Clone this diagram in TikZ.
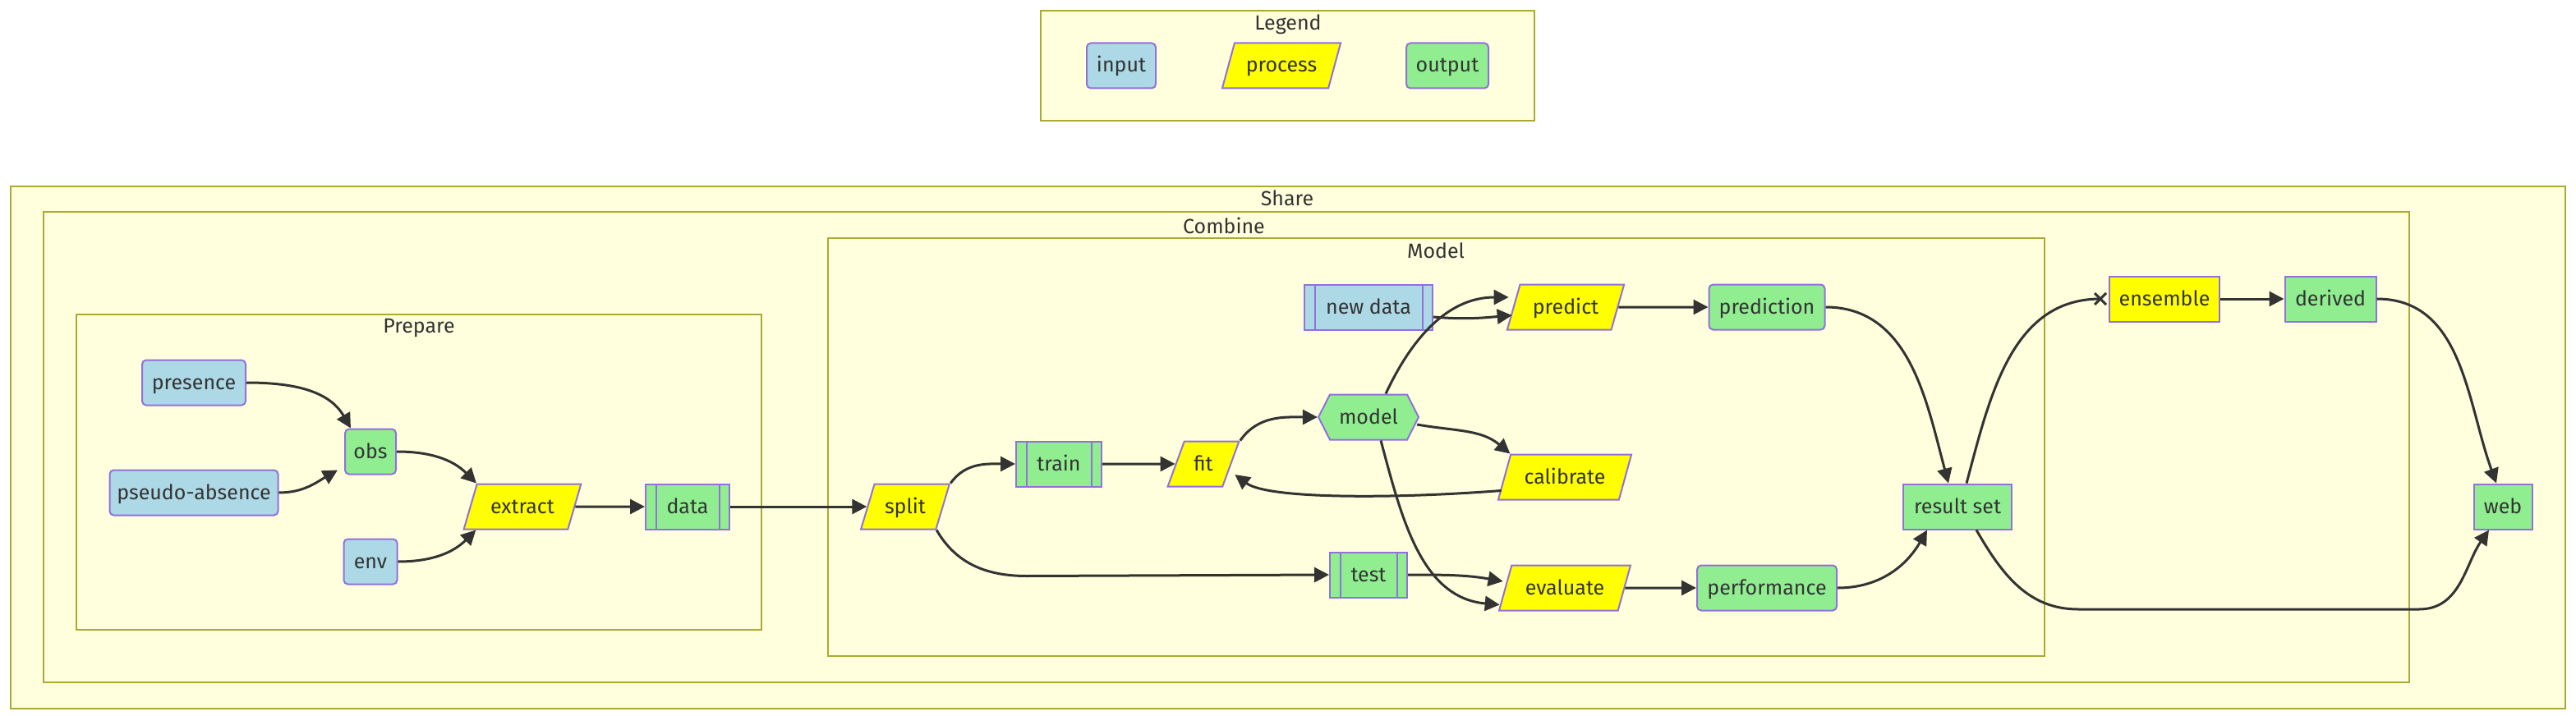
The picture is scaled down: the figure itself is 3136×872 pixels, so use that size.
\documentclass[tikz,border=0pt]{standalone}
\usepackage{fontspec}
\setmainfont{Fira Sans}
\usetikzlibrary{arrows.meta,shapes.geometric,shapes.symbols}

\definecolor{inputc}{HTML}{ADD8E6}
\definecolor{procc}{HTML}{FFFF00}
\definecolor{outc}{HTML}{90EE90}
\definecolor{nodeline}{HTML}{9370DB}
\definecolor{boxfill}{HTML}{FFFFDE}
\definecolor{boxline}{HTML}{AAAA33}
\definecolor{ink}{HTML}{333333}

\tikzset{
	base/.style={draw=nodeline, line width=1pt, text=ink, inner sep=1pt, minimum height=27.5pt, text height=10pt, text depth=2pt},
	inp/.style={base, fill=inputc, rounded corners=2.5pt},
	outp/.style={base, fill=outc, rounded corners=2.5pt},
	outbox/.style={base, fill=outc},
	procbox/.style={base, fill=procc},
	proc/.style={base, fill=procc, trapezium, trapezium left angle=67, trapezium right angle=113, trapezium stretches=true},
	subr/.style={base, path picture={
		\draw[nodeline, line width=1pt] ([xshift=6.25pt]path picture bounding box.north west) -- ([xshift=6.25pt]path picture bounding box.south west)
			([xshift=-6.25pt]path picture bounding box.north east) -- ([xshift=-6.25pt]path picture bounding box.south east);}},
	hexa/.style={base, fill=outc, signal, signal to=east and west, signal pointer angle=126},
	cluster/.style={draw=boxline, fill=boxfill, line width=1pt},
	title/.style={text=ink, inner sep=0pt, text height=10pt, text depth=2pt},
	flow/.style={draw=ink, line width=1.5pt, -{Triangle[length=9pt,width=9pt]}}
}

\begin{document}
\begin{tikzpicture}[x=0.5pt,y=0.5pt,font=\fontsize{12.5pt}{15pt}\selectfont]
	\path[use as bounding box, fill=white] (0,0) rectangle (3136,-872);

	\draw[cluster] (1267,-13) rectangle (1868,-147);
	\node[title] (legt) at (1568,-29) {Legend};
	\node[inp, minimum width=42pt] (legin) at (1365,-80) {input};
	\node[proc, minimum width=72.5pt] (legproc) at (1560,-80) {process};
	\node[outp, minimum width=50pt] (legout) at (1762,-80) {output};

	\draw[cluster] (13,-227) rectangle (3123,-863);
	\node[title] (sharet) at (1567,-242) {Share};
	\draw[cluster] (53,-258) rectangle (2933,-831);
	\node[title] (combt) at (1490,-276) {Combine};
	\draw[cluster] (1008,-290) rectangle (2489,-799);
	\node[title] (modelt) at (1748,-306) {Model};
	\draw[cluster] (93,-383) rectangle (927,-767);
	\node[title] (prept) at (510,-397) {Prepare};

	\node[inp, minimum width=63pt] (pres) at (236,-466) {presence};
	\node[inp, minimum width=102.5pt] (pseudo) at (236,-600) {pseudo-absence};
	\node[outp, minimum width=31pt] (obs) at (451,-550) {obs};
	\node[inp, minimum width=32.5pt] (env) at (451,-684) {env};
	\node[proc, minimum width=71.5pt] (extract) at (636,-617) {extract};
	\node[subr, fill=outc, minimum width=51pt] (data) at (837,-617) {data};

	\node[proc, minimum width=54pt] (split) at (1102,-617) {split};
	\node[subr, fill=outc, minimum width=52pt] (train) at (1289,-565) {train};
	\node[proc, minimum width=43.5pt] (fit) at (1465,-565) {fit};
	\node[hexa, minimum width=61pt] (model) at (1666,-508) {model};
	\node[subr, fill=inputc, minimum width=78pt] (newd) at (1666,-374) {new data};
	\node[proc, minimum width=71.5pt] (pred) at (1906,-374) {predict};
	\node[proc, minimum width=81.5pt] (calib) at (1905,-581) {calibrate};
	\node[subr, fill=outc, minimum width=47pt] (test) at (1666,-700) {test};
	\node[proc, minimum width=80.5pt] (eval) at (1905,-716) {evaluate};
	\node[outp, minimum width=70.5pt] (predn) at (2151,-374) {prediction};
	\node[outp, minimum width=85pt] (perf) at (2151,-716) {performance};

	\node[outbox, minimum width=66pt] (res) at (2383,-617) {result set};
	\node[procbox, minimum width=67pt] (ens) at (2635,-364) {ensemble};
	\node[outbox, minimum width=55.5pt] (der) at (2837,-364) {derived};
	\node[outbox, minimum width=35.5pt] (web) at (3047,-617) {web};

	\coordinate (ensin) at ([shift={(-10,0)}]ens.west);
	\coordinate (lowa) at (2530,-742);
	\coordinate (lowb) at (2945,-742);

	\draw[flow] (pres.east) to[out=0,in=120] ([shift={(-24,0)}]obs.north);
	\draw[flow] (pseudo.east) to[out=0,in=210] ([shift={(-8,6)}]obs.south west);
	\draw[flow] (obs.east) to[out=0,in=135] (extract.top left corner);
	\draw[flow] (env.east) to[out=0,in=225] ([shift={(16,0)}]extract.bottom left corner);
	\draw[flow] (extract) -- (data);
	\draw[flow] (data) -- (split);
	\draw[flow] (split.top right corner) to[out=55,in=180] (train.west);
	\draw[flow] (split.bottom right corner) to[out=-60,in=180] ++(110,-56) -- (test.west);
	\draw[flow] (train) -- (fit);
	\draw[flow] (fit.top right corner) to[out=55,in=180] (model.west);
	\draw[flow] ([shift={(-3,-9)}]model.east) to[out=-10,in=140] (calib.top left corner);
	\draw[flow] ([shift={(5,12)}]calib.bottom left corner) .. controls +(-130,-10) and +(40,-30) .. ([shift={(4,-13)}]fit.east);
	\draw[flow] ([shift={(21,0)}]model.north) to[out=65,in=180] ([shift={(-5,12)}]pred.west);
	\draw[flow] ([shift={(0,-12)}]newd.east) to[out=-5,in=185] ([shift={(-1,-10)}]pred.west);
	\draw[flow] ([shift={(15,0)}]model.south) to[out=-75,in=175] ([shift={(2,8)}]eval.bottom left corner);
	\draw[flow] (test.east) to[out=0,in=170] ([shift={(-2,8)}]eval.west);
	\draw[flow] (pred) -- (predn);
	\draw[flow] (eval) -- (perf);
	\draw[flow] (predn.east) to[out=0,in=105] ([shift={(-11,0)}]res.north);
	\draw[flow] (perf.east) to[out=0,in=-120] ([shift={(-37,0)}]res.south);
	\draw[flow,-] ([shift={(11,0)}]res.north) to[out=75,in=180] (ensin);
	\draw[ink, line width=1.5pt] (ensin) +(-7,-7) -- +(7,7) +(-7,7) -- +(7,-7);
	\draw[flow] (ens) -- (der);
	\draw[flow] (der.east) to[out=0,in=110] ([shift={(-8,0)}]web.north);
	\draw[flow] ([shift={(23,0)}]res.south) to[out=-60,in=180] (lowa) -- (lowb) to[out=0,in=-125] ([shift={(-17,0)}]web.south);
\end{tikzpicture}
\end{document}
